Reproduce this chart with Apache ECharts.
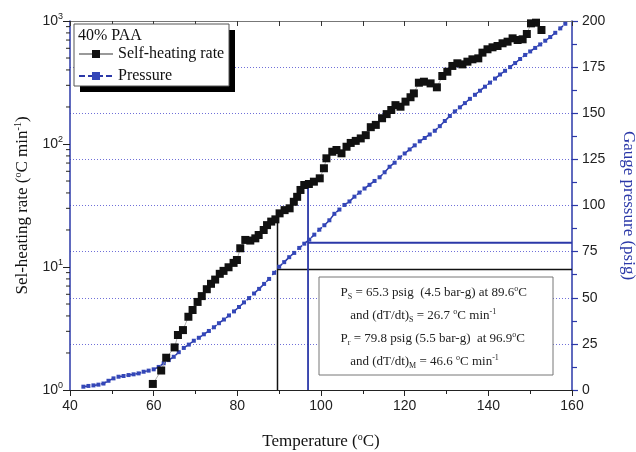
<!DOCTYPE html>
<html>
<head>
<meta charset="UTF-8">
<title>Self-heating rate and pressure, 40% PAA</title>
<script src="https://cdn.jsdelivr.net/npm/echarts@6/dist/echarts.min.js"></script>
<style>
	html, body { margin: 0; padding: 0; background: #fff; }
	#chart { width: 636px; height: 452px; }
</style>
</head>
<body>
<div id="chart"></div>
<script>
// self-heating rate (degC/min, log axis) vs temperature
var rateTemp = [59.8, 61.8, 63.0, 65.0, 65.8, 67.0, 68.3, 69.3, 70.5, 71.5, 72.7, 73.7, 74.7, 75.8, 76.7, 77.9, 79.1,
	79.9, 80.7, 81.9, 83.1, 84.3, 85.1, 86.3, 87.1, 88.1, 89.1, 90.1, 91.3, 92.5, 93.5, 94.3, 95.1, 96.0, 97.1, 98.3,
	99.7, 100.7, 101.3, 102.7, 103.7, 104.9, 106.1, 107.1, 108.3, 109.5, 110.7, 111.9, 113.1, 114.6, 115.7, 116.8,
	117.8, 119.0, 120.2, 121.4, 122.2, 123.4, 124.6, 126.2, 127.7, 129.0, 130.2, 131.4, 132.6, 133.8, 135.0, 136.2,
	137.6, 138.6, 139.8, 141.0, 142.2, 143.4, 144.6, 145.8, 147.0, 148.2, 149.2, 150.2, 151.4, 152.7];
var rateVal = [1.12, 1.44, 1.83, 2.22, 2.8, 3.07, 3.94, 4.47, 5.2, 5.8, 6.6, 7.3, 7.9, 8.8, 9.3, 9.95, 10.8,
	11.4, 14.2, 16.6, 16.4, 17.1, 18.2, 20.0, 21.9, 23.4, 24.4, 27.3, 29.0, 30.0, 33.9, 37.2, 42.3, 46.4, 47.3, 49.4,
	52.6, 63.5, 76.5, 86.5, 89.4, 84.0, 95, 102, 106, 111, 118, 137, 143, 162, 175, 189,
	207, 201, 221, 240, 258, 315, 321, 311, 289, 357, 387, 431, 453, 444, 467, 488,
	497, 553, 589, 611, 626, 659, 679, 723, 701, 710, 784, 957, 969, 845];

// gauge pressure (psig) vs temperature
var presTemp = [43.2, 44.4, 45.6, 46.8, 48.0, 49.2, 50.4, 51.6, 52.8, 54.0, 55.2, 56.4, 57.6, 58.8, 60.0, 61.2,
	62.4, 63.6, 64.8, 66.0, 67.2, 68.4, 69.6, 70.8, 72.0, 73.2, 74.4, 75.6, 76.8, 78.0, 79.2, 80.4, 81.6, 82.8,
	84.0, 85.2, 86.4, 87.6, 88.8, 90.0, 91.2, 92.4, 93.6, 94.8, 96.0, 97.2, 98.4, 99.6, 100.8, 102.0, 103.2, 104.4,
	105.6, 106.8, 108.0, 109.2, 110.4, 111.6, 112.8, 114.0, 115.2, 116.4, 117.6, 118.8, 120.0, 121.2, 122.4, 123.6,
	124.8, 126.0, 127.2, 128.4, 129.6, 130.8, 132.0, 133.2, 134.4, 135.6, 136.8, 138.0, 139.2, 140.4, 141.6, 142.8,
	144.0, 145.2, 146.4, 147.6, 148.8, 150.0, 151.2, 152.4, 153.6, 154.8, 156.0, 157.2, 158.4];
var presVal = [1.8, 2.2, 2.5, 2.9, 3.5, 5.0, 6.3, 7.2, 7.6, 8.1, 8.5, 9.0, 9.9, 10.5, 11.2, 12.5,
	14.5, 16.2, 18.0, 20.5, 22.8, 24.6, 26.7, 28.3, 30.2, 32.0, 34.0, 36.2, 38.2, 40.4, 42.6, 45.0, 47.5, 49.8,
	52.3, 54.8, 57.5, 60.2, 63.5, 66.8, 69.3, 72.0, 74.3, 77.0, 79.3, 81.5, 84.2, 86.9, 89.3, 92.0, 95.5, 97.8,
	100.3, 102.2, 104.8, 107.0, 109.2, 111.2, 113.3, 115.3, 118.0, 121.0, 123.2, 126.0, 128.2, 130.4, 132.6, 134.8,
	136.6, 138.5, 140.5, 143.0, 145.8, 148.5, 151.0, 153.2, 155.5, 157.8, 160.0, 162.2, 164.4, 166.6, 168.8, 171.0,
	173.0, 175.0, 177.2, 179.4, 181.6, 183.5, 185.4, 187.3, 189.3, 191.3, 193.6, 196.0, 198.5];

// marked points: onset (S) and maximum (M)
var onsetT = 89.6, onsetP = 65.3, onsetRate = 26.7;
var maxT = 96.9, maxP = 79.8, maxRate = 46.6;

var xTicks = [40, 160, 20];
var pTicks = [0, 200, 25];
var logMinor = [2, 3, 4, 5, 6, 7, 8, 9, 20, 30, 40, 50, 60, 70, 80, 90, 200, 300, 400, 500, 600, 700, 800, 900];

var BLUE = '#2b38a8';
var MARK = '#3447b8';
var SERIF = '"Liberation Serif", "DejaVu Serif", serif';
var SANS = '"Liberation Sans", Arial, sans-serif';

function zip(a, b) {
	var out = [];
	for (var i = 0; i < a.length; i++) out.push([a[i], b[i]]);
	return out;
}

var myChart = echarts.init(document.getElementById('chart'));
var option = {
	animation: false,
	grid: { left: 70, right: 64, top: 21, bottom: 62, outerBoundsMode: 'none', containLabel: false },
	legend: {
		left: 78, top: 46, padding: 0, orient: 'vertical', itemGap: 6, itemWidth: 34, itemHeight: 10,
		textStyle: { fontFamily: SERIF, fontSize: 16, color: '#111' },
		data: ['Self-heating rate', 'Pressure']
	},
	graphic: [
		{ type: 'rect', z: 1, shape: { x: 80, y: 30, width: 155, height: 62 }, style: { fill: '#000' } },
		{ type: 'rect', z: 2, shape: { x: 74, y: 24, width: 155, height: 62 }, style: { fill: '#fff', stroke: '#555', lineWidth: 1 } },
		{ type: 'text', z: 3, left: 78, top: 28, style: { text: '40% PAA', font: '16px ' + SERIF, fill: '#111' } },
		{ type: 'rect', z: 2, shape: { x: 319, y: 277, width: 234, height: 98 }, style: { fill: '#fff', stroke: '#777', lineWidth: 1 } },
		{
			type: 'text', z: 3, left: 334, top: 281,
			style: {
				text: '  P{sub|S} = 65.3 psig  (4.5 bar-g) at 89.6{sup|o}C\n' +
					'     and (dT/dt){sub|S} = 26.7 {sup|o}C min{sup|-1}\n' +
					'  P{sub|r} = 79.8 psig (5.5 bar-g)  at 96.9{sup|o}C\n' +
					'     and (dT/dt){sub|M} = 46.6 {sup|o}C min{sup|-1}',
				font: '13px ' + SERIF, fill: '#222', lineHeight: 23,
				rich: {
					sub: { fontSize: 8, fontFamily: SERIF, padding: [8, 0, 0, 0], lineHeight: 23 },
					sup: { fontSize: 8, fontFamily: SERIF, padding: [0, 0, 8, 0], lineHeight: 23 }
				}
			}
		}
	],
	xAxis: [
		{
			type: 'value', min: xTicks[0], max: xTicks[1], interval: xTicks[2],
			name: 'Temperature ({sup|o}C)', nameLocation: 'middle', nameGap: 42,
			nameTextStyle: {
				fontFamily: SERIF, fontSize: 17, color: '#111',
				rich: { sup: { fontSize: 10, fontFamily: SERIF, padding: [0, 0, 10, 0] } }
			},
			axisLine: { lineStyle: { color: '#222', width: 1.2 } },
			axisTick: { inside: false, length: 6, lineStyle: { color: '#222' } },
			minorTick: { show: true, splitNumber: 2, length: 4, lineStyle: { color: '#222' } },
			axisLabel: { fontFamily: SANS, fontSize: 14, color: '#222', margin: 9 },
			splitLine: { show: false }
		},
		{
			type: 'value', position: 'top', min: xTicks[0], max: xTicks[1], interval: 10,
			axisLine: { show: true, onZero: false, lineStyle: { color: '#777', width: 1 } },
			axisTick: { show: true, inside: true, length: 5, lineStyle: { color: '#333' } },
			axisLabel: { show: false },
			splitLine: { show: false }
		}
	],
	yAxis: [
		{
			type: 'log', min: 1, max: 1000, logBase: 10,
			name: 'Sel-heating rate ({sup|o}C min{sup|-1})', nameLocation: 'middle', nameGap: 37,
			nameTextStyle: {
				fontFamily: SERIF, fontSize: 17, color: '#111',
				rich: { sup: { fontSize: 10, fontFamily: SERIF, padding: [0, 0, 10, 0] } }
			},
			axisLine: { show: true, lineStyle: { color: BLUE, width: 1.5 } },
			axisTick: { show: true, length: 7, lineStyle: { color: '#222' } },
			axisLabel: {
				fontFamily: SANS, fontSize: 14, color: '#222', margin: 7,
				formatter: function (v) {
					return '10{sup|' + Math.round(Math.log10(v)) + '}';
				},
				rich: { sup: { fontSize: 9, fontFamily: SANS, padding: [0, 0, 9, 0] } }
			},
			splitLine: { show: false }
		},
		{
			type: 'value', min: pTicks[0], max: pTicks[1], interval: pTicks[2], position: 'right',
			name: 'Gauge pressure (psig)', nameLocation: 'middle', nameGap: 48, nameRotate: -90,
			nameTextStyle: { fontFamily: SERIF, fontSize: 17, color: BLUE },
			axisLine: { show: true, lineStyle: { color: BLUE, width: 1.5 } },
			axisTick: { show: true, length: 6, lineStyle: { color: BLUE, width: 1.2 } },
			minorTick: { show: true, splitNumber: 2, length: 5, lineStyle: { color: BLUE, width: 1.2 } },
			axisLabel: { fontFamily: SANS, fontSize: 14, color: '#222', margin: 10 },
			splitLine: { show: true, lineStyle: { color: '#6f6fd8', type: [1, 2], width: 1 } }
		}
	],
	series: [
		{
			// minor ticks on the log axis (2..9 per decade)
			type: 'custom', xAxisIndex: 0, yAxisIndex: 0, silent: true, z: 5,
			data: logMinor.map(function (v) { return [xTicks[0], v]; }),
			renderItem: function (params, api) {
				var p = api.coord([api.value(0), api.value(1)]);
				return { type: 'line', shape: { x1: p[0] - 4, y1: p[1], x2: p[0], y2: p[1] }, style: { stroke: '#222', lineWidth: 1 } };
			}
		},
		{
			name: 'Pressure', type: 'line', xAxisIndex: 0, yAxisIndex: 1, z: 3,
			data: zip(presTemp, presVal),
			symbol: 'rect', symbolSize: 4,
			lineStyle: { color: BLUE, width: 1.5, type: [6, 3] },
			itemStyle: { color: MARK }
		},
		{
			name: 'Self-heating rate', type: 'line', xAxisIndex: 0, yAxisIndex: 0, z: 4,
			data: zip(rateTemp, rateVal),
			symbol: 'rect', symbolSize: 8,
			lineStyle: { color: '#999', width: 0.8 },
			itemStyle: { color: '#111' }
		},
		{
			// onset lines (black)
			type: 'line', xAxisIndex: 0, yAxisIndex: 0, symbol: 'none', silent: true, z: 2,
			data: [[onsetT, 1], [onsetT, onsetRate]],
			lineStyle: { color: '#111', width: 1.5 }
		},
		{
			type: 'line', xAxisIndex: 0, yAxisIndex: 1, symbol: 'none', silent: true, z: 2,
			data: [[onsetT, onsetP], [xTicks[1], onsetP]],
			lineStyle: { color: '#111', width: 1.5 }
		},
		{
			// maximum rate lines (blue)
			type: 'line', xAxisIndex: 0, yAxisIndex: 0, symbol: 'none', silent: true, z: 2,
			data: [[maxT, 1], [maxT, maxRate]],
			lineStyle: { color: BLUE, width: 1.8 }
		},
		{
			type: 'line', xAxisIndex: 0, yAxisIndex: 1, symbol: 'none', silent: true, z: 2,
			data: [[maxT, maxP], [xTicks[1], maxP]],
			lineStyle: { color: BLUE, width: 1.8 }
		}
	]
};
myChart.setOption(option);
</script>
</body>
</html>
